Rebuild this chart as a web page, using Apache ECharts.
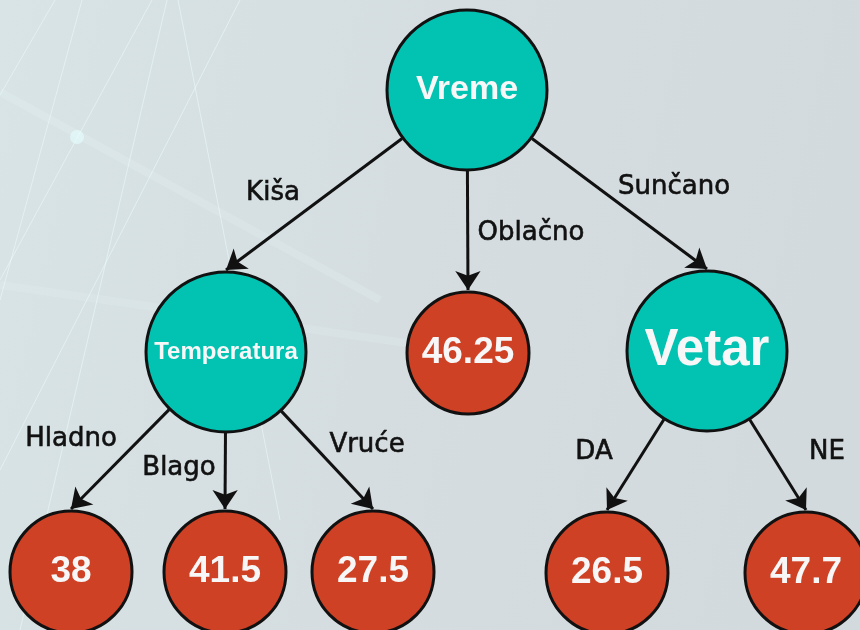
<!DOCTYPE html>
<html>
<head>
<meta charset="utf-8">
<script src="https://cdn.jsdelivr.net/npm/echarts@6/dist/echarts.min.js"></script>
<style>
  html, body { margin: 0; padding: 0; }
  #main { width: 860px; height: 630px; }
</style>
</head>
<body>
<div id="main"></div>
<script>
// decision tree: nodes, their parent and the branch label on the edge into them
var nodeNames = ['Vreme', 'Temperatura', '46.25', 'Vetar', '38', '41.5', '27.5', '26.5', '47.7'];
var nodeParents = [null, 'Vreme', 'Vreme', 'Vreme', 'Temperatura', 'Temperatura', 'Temperatura', 'Vetar', 'Vetar'];
var branchLabels = [null, 'Kiša', 'Oblačno', 'Sunčano', 'Hladno', 'Blago', 'Vruće', 'DA', 'NE'];

// layout (pixel space of the 860x630 canvas)
var nodeX = [467, 226, 468, 707, 71, 225, 373, 607, 806];
var nodeY = [90, 352, 353, 351, 572, 572, 572, 573, 573];
var branchX = [null, 273, 531, 674, 71, 179, 367, 594, 827];
var branchY = [null, 193, 233, 187, 439, 468, 445, 452, 452];
var fontSizes = { 'Vreme': 34, 'Temperatura': 24, 'Vetar': 51 };

var chart = echarts.init(document.getElementById('main'));

function isLeaf(name) {
    return nodeParents.indexOf(name) < 0;
}
function radius(name) {
    return isLeaf(name) ? 61 : 80;
}

var nodeData = nodeNames.map(function(name, i) {
    var leaf = isLeaf(name);
    return {
        name: name,
        value: [nodeX[i], nodeY[i]],
        symbolSize: radius(name) * 2,
        itemStyle: { color: leaf ? '#cf4125' : '#02c2b2' },
        label: { fontSize: leaf ? 37 : fontSizes[name] }
    };
});

// edges: from the parent's rim to the top of the child
var edgeData = [];
var labelData = [];
nodeNames.forEach(function(name, i) {
    var p = nodeParents[i];
    if (!p) return;
    var j = nodeNames.indexOf(p);
    var sx = nodeX[j], sy = nodeY[j];
    var tx = nodeX[i], ty = nodeY[i] - radius(name) - 2;
    var dx = tx - sx, dy = ty - sy;
    var len = Math.sqrt(dx * dx + dy * dy);
    var r = radius(p) + 1;
    edgeData.push({ coords: [[sx + dx / len * r, sy + dy / len * r], [tx, ty]] });
    labelData.push({ name: branchLabels[i], value: [branchX[i], branchY[i]] });
});

// faint background decoration
var deco = [];
[[55, 0, 0, 95], [82, 0, 0, 300], [152, 0, 0, 280], [167, 0, 20, 630],
 [178, 0, 280, 520], [240, 0, 0, 470]].forEach(function(e) {
    deco.push({
        type: 'line', silent: true, z: -10,
        shape: { x1: e[0], y1: e[1], x2: e[2], y2: e[3] },
        style: { stroke: 'rgba(240,255,255,0.5)', lineWidth: 1 }
    });
});
deco.push({
    type: 'line', silent: true, z: -10,
    shape: { x1: 0, y1: 92, x2: 380, y2: 300 },
    style: { stroke: 'rgba(240,255,255,0.15)', lineWidth: 8 }
});
deco.push({
    type: 'line', silent: true, z: -10,
    shape: { x1: 0, y1: 285, x2: 420, y2: 345 },
    style: { stroke: 'rgba(240,255,255,0.13)', lineWidth: 8 }
});
deco.push({
    type: 'circle', silent: true, z: -10,
    shape: { cx: 77, cy: 137, r: 7 },
    style: { fill: 'rgba(230,255,255,0.6)' }
});

var option = {
    backgroundColor: {
        type: 'linear', x: 0, y: 0, x2: 1, y2: 0.3,
        colorStops: [
            { offset: 0, color: '#d8e4e6' },
            { offset: 0.5, color: '#d5dde0' },
            { offset: 1, color: '#d3dadd' }
        ]
    },
    animation: false,
    graphic: deco,
    grid: { left: 0, right: 0, top: 0, bottom: 0 },
    xAxis: { type: 'value', min: 0, max: 860, show: false },
    yAxis: { type: 'value', min: 0, max: 630, inverse: true, show: false },
    series: [
        {
            type: 'lines',
            coordinateSystem: 'cartesian2d',
            data: edgeData,
            symbol: ['none', 'arrow'],
            symbolSize: [15, 19],
            lineStyle: { color: '#111', width: 3, opacity: 1, curveness: 0 },
            z: 2
        },
        {
            type: 'scatter',
            data: nodeData,
            symbol: 'circle',
            itemStyle: { borderColor: '#111', borderWidth: 3, opacity: 1 },
            label: {
                show: true,
                position: 'inside',
                formatter: '{b}',
                color: '#f7f7f7',
                fontFamily: 'Liberation Sans',
                fontWeight: 'bold'
            },
            z: 3
        },
        {
            type: 'scatter',
            data: labelData,
            symbolSize: 0,
            itemStyle: { opacity: 1 },
            label: {
                show: true,
                position: 'inside',
                formatter: '{b}',
                color: '#111',
                fontFamily: 'DejaVu Sans',
                fontSize: 26,
                textBorderColor: '#111',
                textBorderWidth: 0.6
            },
            z: 4
        }
    ]
};

chart.setOption(option);
</script>
</body>
</html>
